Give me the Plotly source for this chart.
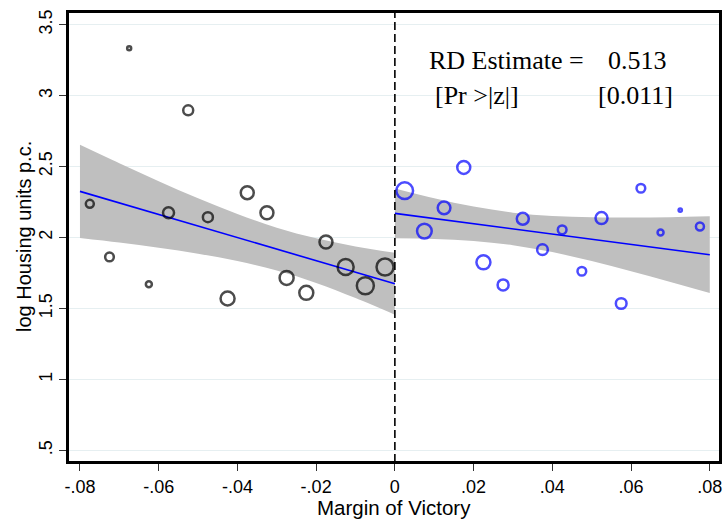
import plotly.graph_objects as go

# binned means, left of cutoff (black) and right of cutoff (blue)
left_x = [-0.0775, -0.0725, -0.0675, -0.0625, -0.0575, -0.0525, -0.0475, -0.0425,
          -0.0375, -0.0325, -0.0275, -0.0225, -0.0175, -0.0125, -0.0075, -0.0025]
left_y = [2.237, 1.863, 3.334, 1.671, 2.174, 2.896, 2.143, 1.570,
          2.316, 2.174, 1.715, 1.610, 1.968, 1.792, 1.660, 1.792]
left_n = [10, 10.7, 6, 8, 13, 12, 12, 16, 15, 15, 16, 16, 15, 18, 19, 19]

right_x = [0.0025, 0.0075, 0.0125, 0.0175, 0.0225, 0.0275, 0.0325, 0.0375,
           0.0425, 0.0475, 0.0525, 0.0575, 0.0625, 0.0675, 0.0725, 0.0775]
right_y = [2.330, 2.045, 2.209, 2.494, 1.825, 1.666, 2.132, 1.914,
           2.054, 1.762, 2.137, 1.535, 2.347, 2.035, 2.193, 2.078]
right_n = [18.7, 16.7, 14.7, 15, 16, 13, 14, 12.7, 10.7, 10.7, 14, 12.7, 10.7, 8, 5.3, 10]

# linear fits with 95% CI
fit_x_left = [-0.08, -0.07, -0.06, -0.05, -0.04, -0.03, -0.02, -0.01, 0.0]
fit_left = [2.325, 2.244, 2.162, 2.081, 2.000, 1.918, 1.837, 1.755, 1.674]
ci_hi_left = [2.654, 2.524, 2.397, 2.276, 2.165, 2.069, 1.994, 1.937, 1.892]
ci_lo_left = [1.996, 1.964, 1.927, 1.886, 1.835, 1.767, 1.680, 1.573, 1.456]

fit_x_right = [0.0, 0.01, 0.02, 0.03, 0.04, 0.05, 0.06, 0.07, 0.08]
fit_right = [2.170, 2.134, 2.097, 2.061, 2.024, 1.988, 1.952, 1.915, 1.879]
ci_hi_right = [2.346, 2.277, 2.218, 2.175, 2.151, 2.142, 2.141, 2.143, 2.149]
ci_lo_right = [1.994, 1.990, 1.976, 1.946, 1.897, 1.834, 1.763, 1.687, 1.609]

x_ticks = [-0.08, -0.06, -0.04, -0.02, 0, 0.02, 0.04, 0.06, 0.08]
x_labels = ["-.08", "-.06", "-.04", "-.02", "0", ".02", ".04", ".06", ".08"]
y_ticks = [0.5, 1, 1.5, 2, 2.5, 3, 3.5]
y_labels = [".5", "1", "1.5", "2", "2.5", "3", "3.5"]

fig = go.Figure()

# CI bands: lower edge first, then upper edge filled down to it
for fx, hi, lo in [(fit_x_left, ci_hi_left, ci_lo_left),
                   (fit_x_right, ci_hi_right, ci_lo_right)]:
    fig.add_trace(go.Scatter(x=fx, y=lo, mode="lines", line=dict(width=0),
                             line_shape="spline", hoverinfo="skip"))
    fig.add_trace(go.Scatter(x=fx, y=hi, mode="lines", line=dict(width=0),
                             line_shape="spline", fill="tonexty",
                             fillcolor="#bfbfbf", hoverinfo="skip"))

for fx, fy in [(fit_x_left, fit_left), (fit_x_right, fit_right)]:
    fig.add_trace(go.Scatter(x=fx, y=fy, mode="lines",
                             line=dict(color="#0000ff", width=1.6)))

fig.add_trace(go.Scatter(x=left_x, y=left_y, mode="markers",
                         marker=dict(symbol="circle-open", color="black",
                                     size=[s - 2 for s in left_n],
                                     line=dict(width=2.5, color="black"))))
fig.add_trace(go.Scatter(x=right_x, y=right_y, mode="markers",
                         marker=dict(symbol="circle-open", color="#0000ff",
                                     size=[s - 2 for s in right_n],
                                     line=dict(width=2.5, color="#0000ff"))))

fig.add_shape(type="line", x0=0, x1=0, y0=0, y1=1, xref="x", yref="paper",
              line=dict(color="black", width=1.6, dash="8px,4px"), layer="above")
# plot frame
fig.add_shape(type="rect", x0=0, x1=1, y0=0, y1=1, xref="paper", yref="paper",
              line=dict(color="black", width=2), layer="above")

serif = dict(family="Liberation Serif", size=26, color="black")
fig.add_annotation(x=0.0082, y=3.244, text="RD Estimate =", showarrow=False,
                   xanchor="left", yanchor="middle", font=serif)
fig.add_annotation(x=0.0537, y=3.244, text="0.513", showarrow=False,
                   xanchor="left", yanchor="middle", font=serif)
fig.add_annotation(x=0.0097, y=2.998, text="[Pr >|z|]", showarrow=False,
                   xanchor="left", yanchor="middle", font=serif)
fig.add_annotation(x=0.0512, y=2.998, text="[0.011]", showarrow=False,
                   xanchor="left", yanchor="middle", font=serif)

fig.add_annotation(x=0.5, y=0, xref="paper", yref="paper", yshift=-45,
                   text="Margin of Victory", showarrow=False,
                   xanchor="center", yanchor="middle",
                   font=dict(family="Liberation Sans", size=20.5, color="black"))
fig.add_annotation(x=0, y=0.5, xref="paper", yref="paper", xshift=-44,
                   text="log Housing units p.c.", showarrow=False, textangle=-90,
                   xanchor="center", yanchor="middle",
                   font=dict(family="Liberation Sans", size=20, color="black"))

axis_common = dict(showline=True, linecolor="black", linewidth=2, mirror=True,
                   ticks="outside", ticklen=7, tickcolor="#333333", tickwidth=1.2,
                   zeroline=False, tickfont=dict(family="Liberation Sans", size=18,
                                                 color="black"))
fig.update_xaxes(range=[-0.08304, 0.0826], tickvals=x_ticks, ticktext=x_labels,
                 showgrid=False, **axis_common)
fig.update_yaxes(range=[0.418, 3.589], tickvals=y_ticks, ticktext=y_labels,
                 tickangle=-90, showgrid=True, gridcolor="#e6eff1", gridwidth=1,
                 **axis_common)

fig.update_layout(width=727, height=520, showlegend=False,
                  margin=dict(l=68, r=5, t=12, b=58),
                  plot_bgcolor="white", paper_bgcolor="white")

fig.write_html("out.html", config={"displayModeBar": False},
               post_script="document.body.style.margin = '0';")
